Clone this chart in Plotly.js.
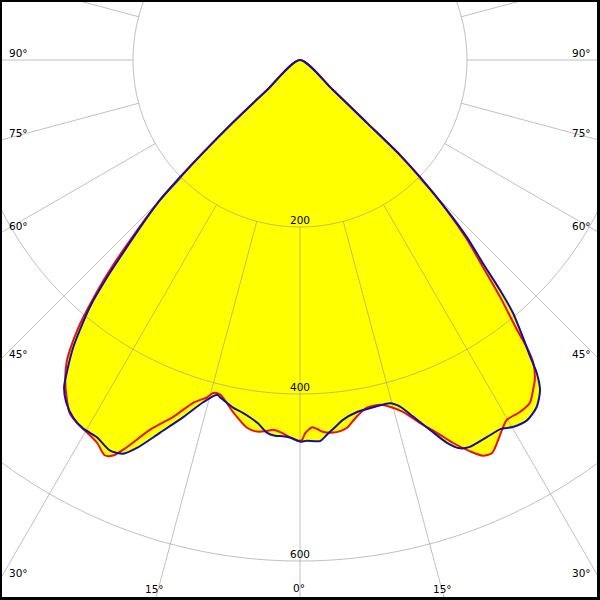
<!DOCTYPE html>
<html>
<head>
<meta charset="utf-8">
<script src="https://cdn.plot.ly/plotly-3.0.1.min.js"></script>
<style>
  html, body { margin: 0; padding: 0; background: #ffffff; }
  #wrap { position: relative; width: 600px; height: 600px; overflow: hidden; background: #fff; }
  #plot { position: absolute; left: -400px; top: -640px; width: 1400px; height: 1400px; }
  #frame { position: absolute; left: 0; top: 0; width: 600px; height: 600px; box-sizing: border-box;
           border-style: solid; border-color: #000; border-width: 2px 3px 3px 2px; pointer-events: none; }
</style>
</head>
<body>
<div id="wrap"><div id="plot"></div><div id="frame"></div></div>
<script>
// Luminous intensity (cd/klm) vs gamma angle; negative = left half, positive = right half
const blueTheta = [-48.5, -47.7, -47.0, -46.3, -45.6, -45.0, -43.9, -42.8, -41.6, -40.4, -39.2, -38.3, -36.9, -35.8,
  -34.4, -32.4, -30.5, -28.3, -26.0, -24.2, -22.8, -20.6, -18.1, -15.8, -13.9, -13.4, -12.0, -10.9, -9.2, -8.0,
  -6.6, -5.1, -3.8, -2.6, -1.2, 0, 1.0, 3.0, 4.1, 5.4, 6.8, 9.2, 11.9, 14.7, 16.1, 17.6, 19.4, 21.0, 22.4, 23.7,
  26.4, 28.5, 30.1, 32.2, 34.3, 36.0, 37.1, 37.8, 38.8, 40.1, 41.0, 42.0, 43.3, 44.4, 45.7, 46.5, 46.8, 47.7, 48.5];
const blueR = [0, 53, 112, 158, 202, 237, 271, 305, 348, 388, 417, 438, 464, 483,
  496, 507, 512, 513, 520, 517, 504, 477, 450, 426, 413, 415, 420, 424, 428, 432,
  438, 448, 451, 451, 453, 457, 456, 457, 450, 442, 434, 427, 425, 425, 432, 448, 470, 491, 503, 506,
  504, 503, 508, 510, 503, 489, 470, 450, 426, 396, 365, 327, 291, 252, 201, 165, 110, 53, 0];

const redTheta = [-48.5, -47.7, -47.0, -46.3, -45.6, -45.0, -43.0, -41.8, -40.6, -39.6, -38.5, -37.7, -36.3, -34.4,
  -33.1, -31.6, -29.7, -27.9, -26.3, -25.3, -24.1, -22.1, -19.6, -17.3, -15.4, -14.6, -13.4, -10.8, -8.2, -6.6,
  -5.1, -4.2, -3.1, -1.5, -0.3, 0.3, 0.8, 1.9, 2.8, 3.5, 5.1, 6.2, 7.3, 9.1, 10.9, 13.1, 14.5, 16.3, 18.3, 20.2,
  21.8, 23.5, 24.8, 26.0, 27.2, 28.6, 29.9, 32.0, 33.9, 35.2, 36.3, 37.6, 38.3, 38.8, 40.2, 41.5, 43.0, 44.3,
  45.6, 46.4, 46.8, 47.7, 48.5];
const redR = [0, 55, 113, 160, 205, 238, 308, 351, 388, 417, 442, 457, 475, 494,
  505, 510, 514, 519, 528, 524, 508, 478, 454, 430, 419, 412, 412, 429, 445, 448,
  446, 444, 446, 452, 456, 455, 447, 440, 443, 446, 448, 447, 444, 432, 424, 424, 429, 439, 458, 476,
  494, 511, 522, 524, 516, 505, 497, 497, 494, 484, 475, 458, 438, 415, 371, 330, 292, 252,
  201, 163, 110, 53, 0];

const ringValues = [200, 400, 600, 800];
const ringLabels = ['200', '400', '600'];
const spokeAngles = [0, 15, 30, 45, 60, 75, 90, 105, 120, 135, 150, 165, 180, 195, 210, 225, 240, 255, 270, 285, 300, 315, 330, 345];
const angleLabels = ['90°', '75°', '60°', '45°', '30°', '15°', '0°', '15°', '30°', '45°', '60°', '75°', '90°'];

// ---- styling / layout (not data) ----
const RMAX = 838.3;            // radial range so that 200 units = 167 px
const DIV = 1400, OFFX = 400, OFFY = 640;
const labelPos = [[18,53],[18,133],[18,226],[18,354],[18,573],[154,589],[299,588],
                  [443,589],[581,573],[581,354],[581,226],[581,133],[581,53]];
const gridColor = 'rgba(150,150,150,0.6)';
const FONT = 'DejaVu Sans, Verdana, sans-serif';
const FSIZE = 10.5;

// circle grid
const cTheta = [], cR = [];
ringValues.forEach(v => {
  for (let a = 0; a <= 360; a += 1) { cTheta.push(a); cR.push(v); }
  cTheta.push(null); cR.push(null);
});
// spokes from inner ring outward
const sTheta = [], sR = [];
spokeAngles.forEach(a => {
  sTheta.push(a, a, null); sR.push(ringValues[0], RMAX, null);
});

const curveLine = (c) => ({width: 2, color: c, shape: 'spline', smoothing: 0.7});

const traces = [
  {type: 'scatterpolar', mode: 'lines', r: redR, theta: redTheta, fill: 'toself', fillcolor: '#ffff00',
   line: {width: 0, color: 'rgba(0,0,0,0)', shape: 'spline', smoothing: 0.7}, hoverinfo: 'skip', showlegend: false},
  {type: 'scatterpolar', mode: 'lines', r: blueR, theta: blueTheta, fill: 'toself', fillcolor: '#ffff00',
   line: {width: 0, color: 'rgba(0,0,0,0)', shape: 'spline', smoothing: 0.7}, hoverinfo: 'skip', showlegend: false},
  {type: 'scatterpolar', mode: 'lines', r: cR, theta: cTheta, line: {width: 1, color: gridColor},
   connectgaps: false, hoverinfo: 'skip', showlegend: false},
  {type: 'scatterpolar', mode: 'lines', r: sR, theta: sTheta, line: {width: 1, color: gridColor},
   connectgaps: false, hoverinfo: 'skip', showlegend: false},
  {type: 'scatterpolar', mode: 'lines', r: redR, theta: redTheta, line: curveLine('#e81010'),
   hoverinfo: 'skip', showlegend: false},
  {type: 'scatterpolar', mode: 'lines', r: blueR, theta: blueTheta, line: curveLine('#1010a8'),
   hoverinfo: 'skip', showlegend: false},
  {type: 'scatterpolar', mode: 'text', r: ringValues.slice(0, ringLabels.length), theta: ringLabels.map(() => 0),
   text: ringLabels, textposition: 'top center', textfont: {family: FONT, size: FSIZE, color: '#000'},
   hoverinfo: 'skip', showlegend: false}
];

const annotations = angleLabels.map((t, i) => ({
  text: t, xref: 'paper', yref: 'paper',
  x: (labelPos[i][0] + OFFX) / DIV, y: 1 - (labelPos[i][1] + OFFY) / DIV,
  xanchor: 'center', yanchor: 'middle', showarrow: false,
  font: {family: FONT, size: FSIZE, color: '#000'}
}));

const layout = {
  width: DIV, height: DIV,
  margin: {l: 0, r: 0, t: 0, b: 0, pad: 0},
  paper_bgcolor: '#ffffff',
  showlegend: false,
  polar: {
    domain: {x: [0, 1], y: [0, 1]},
    bgcolor: '#ffffff',
    radialaxis: {range: [0, RMAX], visible: false, showgrid: false, showline: false, showticklabels: false, ticks: ''},
    angularaxis: {rotation: -90, direction: 'counterclockwise', showgrid: false, showline: false,
                  showticklabels: false, ticks: ''}
  },
  annotations: annotations
};

Plotly.newPlot('plot', traces, layout, {staticPlot: true, displayModeBar: false});
</script>
</body>
</html>
